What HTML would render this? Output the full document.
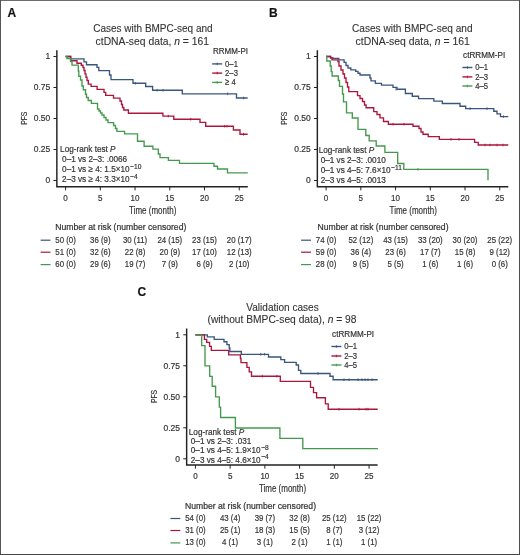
<!DOCTYPE html><html><head><meta charset="utf-8"><style>html,body{margin:0;padding:0;background:#fff}svg{display:block;will-change:transform}text{font-family:"Liberation Sans", sans-serif;stroke:#333;stroke-width:0.2px}text.t{stroke-width:0.1px}</style></head><body>
<svg width="520" height="555" viewBox="0 0 520 555">
<rect x="0" y="0" width="520" height="555" fill="#fff"/>
<rect x="0" y="0" width="520" height="1" fill="#6c6c6c"/><rect x="0" y="0" width="1" height="555" fill="#555"/><rect x="519" y="0" width="1" height="555" fill="#4e4e4e"/><rect x="0" y="554" width="520" height="1" fill="#454545"/>
<text x="7.40" y="17.00" font-size="12.0" font-weight="bold" fill="#111">A</text>
<text x="93.30" y="31.80" font-size="10.2" textLength="119.3" lengthAdjust="spacingAndGlyphs" fill="#333" class="t">Cases with BMPC-seq and</text>
<text class="t" x="95.6" y="44.5" font-size="10.2" fill="#333" textLength="113.4" lengthAdjust="spacingAndGlyphs">ctDNA-seq data, <tspan font-style="italic">n</tspan> = 161</text>
<path d="M56.85,50.30V186.75H247.80" fill="none" stroke="#222" stroke-width="1.45"/>
<path d="M53.45,56.50H56.85M53.45,87.50H56.85M53.45,118.50H56.85M53.45,149.50H56.85M53.45,180.50H56.85M65.60,186.75V190.35M100.33,186.75V190.35M135.06,186.75V190.35M169.79,186.75V190.35M204.52,186.75V190.35M239.25,186.75V190.35" stroke="#222" stroke-width="1.0" fill="none"/>
<text transform="translate(50.20,59.40) scale(0.9,1)" font-size="9.4" text-anchor="end" fill="#333">1</text>
<text transform="translate(50.20,90.40) scale(0.9,1)" font-size="9.4" text-anchor="end" fill="#333">0.75</text>
<text transform="translate(50.20,121.40) scale(0.9,1)" font-size="9.4" text-anchor="end" fill="#333">0.50</text>
<text transform="translate(50.20,152.40) scale(0.9,1)" font-size="9.4" text-anchor="end" fill="#333">0.25</text>
<text transform="translate(50.20,183.40) scale(0.9,1)" font-size="9.4" text-anchor="end" fill="#333">0</text>
<text transform="translate(65.60,200.60) scale(0.84,1)" font-size="9.6" text-anchor="middle" fill="#333">0</text>
<text transform="translate(100.33,200.60) scale(0.84,1)" font-size="9.6" text-anchor="middle" fill="#333">5</text>
<text transform="translate(135.06,200.60) scale(0.84,1)" font-size="9.6" text-anchor="middle" fill="#333">10</text>
<text transform="translate(169.79,200.60) scale(0.84,1)" font-size="9.6" text-anchor="middle" fill="#333">15</text>
<text transform="translate(204.52,200.60) scale(0.84,1)" font-size="9.6" text-anchor="middle" fill="#333">20</text>
<text transform="translate(239.25,200.60) scale(0.84,1)" font-size="9.6" text-anchor="middle" fill="#333">25</text>
<text x="129.10" y="214.10" font-size="11.5" textLength="47.2" lengthAdjust="spacingAndGlyphs" fill="#333">Time (month)</text>
<text x="0" y="0" font-size="9.9" fill="#333" text-anchor="middle" textLength="13.2" lengthAdjust="spacingAndGlyphs" transform="translate(26.90,118.20) rotate(-90)">PFS</text>
<text x="212.90" y="54.20" font-size="8.8" textLength="35.2" lengthAdjust="spacingAndGlyphs" fill="#333">RRMM-PI</text>
<path d="M212.20,63.90H222.20" stroke="#39567e" stroke-width="1.4"/>
<path d="M217.20,62.60v2.6" stroke="#39567e" stroke-width="0.9"/>
<text transform="translate(225.10,66.80) scale(0.8,1)" font-size="9.6" fill="#333">0–1</text>
<path d="M212.20,73.10H222.20" stroke="#ab163d" stroke-width="1.4"/>
<path d="M217.20,71.80v2.6" stroke="#ab163d" stroke-width="0.9"/>
<text transform="translate(225.10,76.00) scale(0.8,1)" font-size="9.6" fill="#333">2–3</text>
<path d="M212.20,82.40H222.20" stroke="#45994e" stroke-width="1.4"/>
<path d="M217.20,81.10v2.6" stroke="#45994e" stroke-width="0.9"/>
<text transform="translate(225.10,85.30) scale(0.8,1)" font-size="9.6" fill="#333">≥ 4</text>
<path d="M65.60,56.50H70.60V58.80H84.00V61.80H86.50V64.70H97.00V67.30H98.80V70.60H109.50V75.00H111.00V79.60H133.00V83.20H145.70V86.50H152.60V90.20H182.30V93.80H236.50V98.00H247.70" fill="none" stroke="#39567e" stroke-width="1.35" stroke-linejoin="miter"/>
<path d="M65.60,56.50H70.70V60.70H77.00V63.20H81.30V65.20H83.00V67.50H84.00V70.50H85.00V73.80H86.00V77.20H87.00V80.50H88.30V84.10H91.10V86.30H97.10V89.30H104.00V92.30H105.70V95.30H113.50V98.10H120.00V101.00H121.50V104.50H122.50V107.50H123.80V110.00H128.40V113.20H162.90V116.10H173.80V119.20H200.00V122.30H205.70V126.20H233.40V130.00H240.00V134.20H247.70" fill="none" stroke="#ab163d" stroke-width="1.35" stroke-linejoin="miter"/>
<path d="M65.60,56.50H67.00V58.50H70.50V61.50H72.00V65.10H78.30V71.00H78.80V76.20H80.50V80.00H82.00V86.00H83.30V89.70H85.50V94.20H86.50V97.50H88.20V100.50H91.40V103.40H97.50V109.00H99.00V111.00H100.50V113.00H102.00V115.00H104.00V117.50H106.00V120.00H108.00V122.60H113.60V125.50H115.50V128.50H116.90V131.30H124.60V133.80H137.50V141.20H144.10V146.20H152.90V149.10H158.30V154.00H160.00V157.60H168.40V160.30H179.50V163.30H214.00V166.20H217.50V169.00H227.50V172.80H247.80" fill="none" stroke="#45994e" stroke-width="1.35" stroke-linejoin="miter"/>
<path d="M135.40,81.90v2.60M157.20,88.90v2.60M163.00,88.90v2.60M227.70,92.50v2.60M243.50,96.70v2.60" stroke="#39567e" stroke-width="0.9" fill="none"/>
<path d="M168.30,114.80v2.60M190.80,117.90v2.60M224.60,124.90v2.60M227.00,124.90v2.60M243.50,132.90v2.60" stroke="#ab163d" stroke-width="0.9" fill="none"/>
<text transform="translate(60.10,151.50) scale(0.91,1)" font-size="9.0" fill="#333">Log-rank test <tspan font-style="italic">P</tspan></text>
<text transform="translate(62.10,161.60) scale(0.91,1)" font-size="9.0" fill="#333">0–1 vs 2–3: .0066</text>
<text transform="translate(62.10,171.70) scale(0.91,1)" font-size="9.0" fill="#333">0–1 vs ≥ 4: 1.5×10<tspan font-size="7.3" dx="0.6" dy="-3.1">−10</tspan></text>
<text transform="translate(62.10,181.90) scale(0.91,1)" font-size="9.0" fill="#333">2–3 vs ≥ 4: 3.3×10<tspan font-size="7.3" dx="0.6" dy="-3.1">−4</tspan></text>
<text x="55.30" y="230.30" font-size="8.4" textLength="131.0" lengthAdjust="spacingAndGlyphs" fill="#333">Number at risk (number censored)</text>
<path d="M40.60,240.20H50.50" stroke="#39567e" stroke-width="1.2"/>
<text transform="translate(65.60,242.50) scale(0.8,1)" font-size="9.8" text-anchor="middle" fill="#333">50 (0)</text>
<text transform="translate(100.33,242.50) scale(0.8,1)" font-size="9.8" text-anchor="middle" fill="#333">36 (9)</text>
<text transform="translate(135.06,242.50) scale(0.8,1)" font-size="9.8" text-anchor="middle" fill="#333">30 (11)</text>
<text transform="translate(169.79,242.50) scale(0.8,1)" font-size="9.8" text-anchor="middle" fill="#333">24 (15)</text>
<text transform="translate(204.52,242.50) scale(0.8,1)" font-size="9.8" text-anchor="middle" fill="#333">23 (15)</text>
<text transform="translate(239.25,242.50) scale(0.8,1)" font-size="9.8" text-anchor="middle" fill="#333">20 (17)</text>
<path d="M40.60,252.20H50.50" stroke="#ab163d" stroke-width="1.2"/>
<text transform="translate(65.60,254.50) scale(0.8,1)" font-size="9.8" text-anchor="middle" fill="#333">51 (0)</text>
<text transform="translate(100.33,254.50) scale(0.8,1)" font-size="9.8" text-anchor="middle" fill="#333">32 (6)</text>
<text transform="translate(135.06,254.50) scale(0.8,1)" font-size="9.8" text-anchor="middle" fill="#333">22 (8)</text>
<text transform="translate(169.79,254.50) scale(0.8,1)" font-size="9.8" text-anchor="middle" fill="#333">20 (9)</text>
<text transform="translate(204.52,254.50) scale(0.8,1)" font-size="9.8" text-anchor="middle" fill="#333">17 (10)</text>
<text transform="translate(239.25,254.50) scale(0.8,1)" font-size="9.8" text-anchor="middle" fill="#333">12 (13)</text>
<path d="M40.60,264.60H50.50" stroke="#45994e" stroke-width="1.2"/>
<text transform="translate(65.60,266.90) scale(0.8,1)" font-size="9.8" text-anchor="middle" fill="#333">60 (0)</text>
<text transform="translate(100.33,266.90) scale(0.8,1)" font-size="9.8" text-anchor="middle" fill="#333">29 (6)</text>
<text transform="translate(135.06,266.90) scale(0.8,1)" font-size="9.8" text-anchor="middle" fill="#333">19 (7)</text>
<text transform="translate(169.79,266.90) scale(0.8,1)" font-size="9.8" text-anchor="middle" fill="#333">7 (9)</text>
<text transform="translate(204.52,266.90) scale(0.8,1)" font-size="9.8" text-anchor="middle" fill="#333">6 (9)</text>
<text transform="translate(239.25,266.90) scale(0.8,1)" font-size="9.8" text-anchor="middle" fill="#333">2 (10)</text>
<text x="269.00" y="17.00" font-size="12.0" font-weight="bold" fill="#111">B</text>
<text x="352.10" y="31.70" font-size="10.2" textLength="120.4" lengthAdjust="spacingAndGlyphs" fill="#333" class="t">Cases with BMPC-seq and</text>
<text class="t" x="355.6" y="44.5" font-size="10.2" fill="#333" textLength="114.2" lengthAdjust="spacingAndGlyphs">ctDNA-seq data, <tspan font-style="italic">n</tspan> = 161</text>
<path d="M317.35,50.30V186.75H508.30" fill="none" stroke="#222" stroke-width="1.45"/>
<path d="M313.95,56.50H317.35M313.95,87.50H317.35M313.95,118.50H317.35M313.95,149.50H317.35M313.95,180.50H317.35M326.10,186.75V190.35M360.83,186.75V190.35M395.56,186.75V190.35M430.29,186.75V190.35M465.02,186.75V190.35M499.75,186.75V190.35" stroke="#222" stroke-width="1.0" fill="none"/>
<text transform="translate(310.70,59.40) scale(0.9,1)" font-size="9.4" text-anchor="end" fill="#333">1</text>
<text transform="translate(310.70,90.40) scale(0.9,1)" font-size="9.4" text-anchor="end" fill="#333">0.75</text>
<text transform="translate(310.70,121.40) scale(0.9,1)" font-size="9.4" text-anchor="end" fill="#333">0.50</text>
<text transform="translate(310.70,152.40) scale(0.9,1)" font-size="9.4" text-anchor="end" fill="#333">0.25</text>
<text transform="translate(310.70,183.40) scale(0.9,1)" font-size="9.4" text-anchor="end" fill="#333">0</text>
<text transform="translate(326.10,200.60) scale(0.84,1)" font-size="9.6" text-anchor="middle" fill="#333">0</text>
<text transform="translate(360.83,200.60) scale(0.84,1)" font-size="9.6" text-anchor="middle" fill="#333">5</text>
<text transform="translate(395.56,200.60) scale(0.84,1)" font-size="9.6" text-anchor="middle" fill="#333">10</text>
<text transform="translate(430.29,200.60) scale(0.84,1)" font-size="9.6" text-anchor="middle" fill="#333">15</text>
<text transform="translate(465.02,200.60) scale(0.84,1)" font-size="9.6" text-anchor="middle" fill="#333">20</text>
<text transform="translate(499.75,200.60) scale(0.84,1)" font-size="9.6" text-anchor="middle" fill="#333">25</text>
<text x="389.60" y="214.10" font-size="11.5" textLength="47.2" lengthAdjust="spacingAndGlyphs" fill="#333">Time (month)</text>
<text x="0" y="0" font-size="9.9" fill="#333" text-anchor="middle" textLength="13.2" lengthAdjust="spacingAndGlyphs" transform="translate(287.40,118.20) rotate(-90)">PFS</text>
<text x="463.10" y="58.20" font-size="8.8" textLength="42.1" lengthAdjust="spacingAndGlyphs" fill="#333">ctRRMM-PI</text>
<path d="M462.40,67.50H472.40" stroke="#39567e" stroke-width="1.4"/>
<path d="M467.40,66.20v2.6" stroke="#39567e" stroke-width="0.9"/>
<text transform="translate(475.30,70.40) scale(0.8,1)" font-size="9.6" fill="#333">0–1</text>
<path d="M462.40,76.90H472.40" stroke="#ab163d" stroke-width="1.4"/>
<path d="M467.40,75.60v2.6" stroke="#ab163d" stroke-width="0.9"/>
<text transform="translate(475.30,79.80) scale(0.8,1)" font-size="9.6" fill="#333">2–3</text>
<path d="M462.40,86.00H472.40" stroke="#45994e" stroke-width="1.4"/>
<path d="M467.40,84.70v2.6" stroke="#45994e" stroke-width="0.9"/>
<text transform="translate(475.30,88.90) scale(0.8,1)" font-size="9.6" fill="#333">4–5</text>
<path d="M326.10,56.50H330.50V57.80H333.00V58.40H338.80V59.80H344.10V62.30H346.00V65.50H348.00V68.00H350.80V69.90H355.70V71.40H358.00V73.20H360.00V75.00H370.00V78.00H371.00V80.80H375.40V83.40H381.50V85.10H393.00V87.40H397.00V89.20H405.40V93.50H412.30V96.20H418.50V98.60H433.80V101.10H442.30V103.50H460.00V106.20H465.70V108.60H493.80V111.20H497.00V113.80H500.50V116.60H508.30" fill="none" stroke="#39567e" stroke-width="1.35" stroke-linejoin="miter"/>
<path d="M326.10,56.50H330.70V57.80H332.00V59.80H337.90V61.50H339.00V66.00H341.00V70.00H343.00V74.00H344.50V78.00H346.00V82.50H347.50V87.00H348.80V91.60H357.50V95.60H360.00V98.50H362.50V101.50H364.50V105.00H366.10V107.70H373.70V111.60H377.00V114.50H380.00V117.80H383.50V121.50H388.40V124.20H413.00V126.20H419.00V128.50H421.00V132.00H423.00V134.20H428.20V136.60H439.30V139.30H474.60V142.40H478.20V145.00H508.30" fill="none" stroke="#ab163d" stroke-width="1.35" stroke-linejoin="miter"/>
<path d="M326.10,56.50H326.80V61.00H330.20V66.00H331.20V71.60H332.10V76.00H338.30V80.50H339.50V86.40H342.50V94.00H343.50V101.90H346.50V112.90H352.30V118.00H358.00V129.40H365.80V135.50H369.20V140.80H376.20V146.00H384.90V152.40H397.70V163.50H403.80V169.30H488.00V180.30" fill="none" stroke="#45994e" stroke-width="1.35" stroke-linejoin="miter"/>
<path d="M396.00,87.90v2.60M470.00,107.30v2.60M487.00,107.30v2.60M503.50,115.30v2.60" stroke="#39567e" stroke-width="0.9" fill="none"/>
<path d="M393.00,122.90v2.60M404.00,122.90v2.60M451.00,138.00v2.60M459.00,138.00v2.60M485.00,143.70v2.60M490.00,143.70v2.60M497.00,143.70v2.60M503.00,143.70v2.60" stroke="#ab163d" stroke-width="0.9" fill="none"/>
<path d="M418.00,168.00v2.60" stroke="#45994e" stroke-width="0.9" fill="none"/>
<text transform="translate(318.70,153.00) scale(0.91,1)" font-size="9.0" fill="#333">Log-rank test <tspan font-style="italic">P</tspan></text>
<text transform="translate(320.70,162.90) scale(0.91,1)" font-size="9.0" fill="#333">0–1 vs 2–3: .0010</text>
<text transform="translate(320.70,173.10) scale(0.91,1)" font-size="9.0" fill="#333">0–1 vs 4–5: 7.6×10<tspan font-size="7.3" dx="0.6" dy="-3.1">−11</tspan></text>
<text transform="translate(320.70,183.10) scale(0.91,1)" font-size="9.0" fill="#333">2–3 vs 4–5: .0013</text>
<text x="317.50" y="230.30" font-size="8.4" textLength="131.0" lengthAdjust="spacingAndGlyphs" fill="#333">Number at risk (number censored)</text>
<path d="M301.10,240.20H311.00" stroke="#39567e" stroke-width="1.2"/>
<text transform="translate(326.10,242.50) scale(0.8,1)" font-size="9.8" text-anchor="middle" fill="#333">74 (0)</text>
<text transform="translate(360.83,242.50) scale(0.8,1)" font-size="9.8" text-anchor="middle" fill="#333">52 (12)</text>
<text transform="translate(395.56,242.50) scale(0.8,1)" font-size="9.8" text-anchor="middle" fill="#333">43 (15)</text>
<text transform="translate(430.29,242.50) scale(0.8,1)" font-size="9.8" text-anchor="middle" fill="#333">33 (20)</text>
<text transform="translate(465.02,242.50) scale(0.8,1)" font-size="9.8" text-anchor="middle" fill="#333">30 (20)</text>
<text transform="translate(499.75,242.50) scale(0.8,1)" font-size="9.8" text-anchor="middle" fill="#333">25 (22)</text>
<path d="M301.10,252.20H311.00" stroke="#ab163d" stroke-width="1.2"/>
<text transform="translate(326.10,254.50) scale(0.8,1)" font-size="9.8" text-anchor="middle" fill="#333">59 (0)</text>
<text transform="translate(360.83,254.50) scale(0.8,1)" font-size="9.8" text-anchor="middle" fill="#333">36 (4)</text>
<text transform="translate(395.56,254.50) scale(0.8,1)" font-size="9.8" text-anchor="middle" fill="#333">23 (6)</text>
<text transform="translate(430.29,254.50) scale(0.8,1)" font-size="9.8" text-anchor="middle" fill="#333">17 (7)</text>
<text transform="translate(465.02,254.50) scale(0.8,1)" font-size="9.8" text-anchor="middle" fill="#333">15 (8)</text>
<text transform="translate(499.75,254.50) scale(0.8,1)" font-size="9.8" text-anchor="middle" fill="#333">9 (12)</text>
<path d="M301.10,264.60H311.00" stroke="#45994e" stroke-width="1.2"/>
<text transform="translate(326.10,266.90) scale(0.8,1)" font-size="9.8" text-anchor="middle" fill="#333">28 (0)</text>
<text transform="translate(360.83,266.90) scale(0.8,1)" font-size="9.8" text-anchor="middle" fill="#333">9 (5)</text>
<text transform="translate(395.56,266.90) scale(0.8,1)" font-size="9.8" text-anchor="middle" fill="#333">5 (5)</text>
<text transform="translate(430.29,266.90) scale(0.8,1)" font-size="9.8" text-anchor="middle" fill="#333">1 (6)</text>
<text transform="translate(465.02,266.90) scale(0.8,1)" font-size="9.8" text-anchor="middle" fill="#333">1 (6)</text>
<text transform="translate(499.75,266.90) scale(0.8,1)" font-size="9.8" text-anchor="middle" fill="#333">0 (6)</text>
<text x="137.60" y="295.60" font-size="12.0" font-weight="bold" fill="#111">C</text>
<text x="246.30" y="310.70" font-size="10.2" textLength="72.4" lengthAdjust="spacingAndGlyphs" fill="#333" class="t">Validation cases</text>
<text class="t" x="207.5" y="323.0" font-size="10.2" fill="#333" textLength="149" lengthAdjust="spacingAndGlyphs">(without BMPC-seq data), <tspan font-style="italic">n</tspan> = 98</text>
<path d="M186.65,328.60V465.05H377.60" fill="none" stroke="#222" stroke-width="1.45"/>
<path d="M183.25,334.80H186.65M183.25,365.80H186.65M183.25,396.80H186.65M183.25,427.80H186.65M183.25,458.80H186.65M195.40,465.05V468.65M230.13,465.05V468.65M264.86,465.05V468.65M299.59,465.05V468.65M334.32,465.05V468.65M369.05,465.05V468.65" stroke="#222" stroke-width="1.0" fill="none"/>
<text transform="translate(180.00,337.70) scale(0.9,1)" font-size="9.4" text-anchor="end" fill="#333">1</text>
<text transform="translate(180.00,368.70) scale(0.9,1)" font-size="9.4" text-anchor="end" fill="#333">0.75</text>
<text transform="translate(180.00,399.70) scale(0.9,1)" font-size="9.4" text-anchor="end" fill="#333">0.50</text>
<text transform="translate(180.00,430.70) scale(0.9,1)" font-size="9.4" text-anchor="end" fill="#333">0.25</text>
<text transform="translate(180.00,461.70) scale(0.9,1)" font-size="9.4" text-anchor="end" fill="#333">0</text>
<text transform="translate(195.40,478.90) scale(0.84,1)" font-size="9.6" text-anchor="middle" fill="#333">0</text>
<text transform="translate(230.13,478.90) scale(0.84,1)" font-size="9.6" text-anchor="middle" fill="#333">5</text>
<text transform="translate(264.86,478.90) scale(0.84,1)" font-size="9.6" text-anchor="middle" fill="#333">10</text>
<text transform="translate(299.59,478.90) scale(0.84,1)" font-size="9.6" text-anchor="middle" fill="#333">15</text>
<text transform="translate(334.32,478.90) scale(0.84,1)" font-size="9.6" text-anchor="middle" fill="#333">20</text>
<text transform="translate(369.05,478.90) scale(0.84,1)" font-size="9.6" text-anchor="middle" fill="#333">25</text>
<text x="258.90" y="492.40" font-size="11.5" textLength="47.2" lengthAdjust="spacingAndGlyphs" fill="#333">Time (month)</text>
<text x="0" y="0" font-size="9.9" fill="#333" text-anchor="middle" textLength="13.2" lengthAdjust="spacingAndGlyphs" transform="translate(156.70,396.50) rotate(-90)">PFS</text>
<text x="332.10" y="337.10" font-size="8.8" textLength="42.0" lengthAdjust="spacingAndGlyphs" fill="#333">ctRRMM-PI</text>
<path d="M331.40,346.50H341.40" stroke="#39567e" stroke-width="1.4"/>
<path d="M336.40,345.20v2.6" stroke="#39567e" stroke-width="0.9"/>
<text transform="translate(344.30,349.40) scale(0.8,1)" font-size="9.6" fill="#333">0–1</text>
<path d="M331.40,356.00H341.40" stroke="#ab163d" stroke-width="1.4"/>
<path d="M336.40,354.70v2.6" stroke="#ab163d" stroke-width="0.9"/>
<text transform="translate(344.30,358.90) scale(0.8,1)" font-size="9.6" fill="#333">2–3</text>
<path d="M331.40,365.00H341.40" stroke="#45994e" stroke-width="1.4"/>
<path d="M336.40,363.70v2.6" stroke="#45994e" stroke-width="0.9"/>
<text transform="translate(344.30,367.90) scale(0.8,1)" font-size="9.6" fill="#333">4–5</text>
<path d="M195.40,334.80H207.30V336.80H214.20V339.40H224.00V341.70H226.90V344.60H229.20V348.00H229.80V351.50H241.30V354.30H268.50V357.00H280.80V359.60H284.60V362.40H296.20V365.00H298.50V370.40H300.80V373.50H330.00V376.20H333.10V379.70H377.70" fill="none" stroke="#39567e" stroke-width="1.35" stroke-linejoin="miter"/>
<path d="M195.40,334.80H204.40V339.40H206.70V342.30H209.60V346.30H211.30V350.40H228.70V354.80H240.40V358.50H241.00V362.60H246.90V367.30H249.20V371.90H251.50V376.20H280.30V381.30H310.50V387.40H313.50V392.60H316.60V397.70H325.40V403.80H328.20V409.20H377.70" fill="none" stroke="#ab163d" stroke-width="1.35" stroke-linejoin="miter"/>
<path d="M195.40,334.80H201.70V345.60H205.00V365.80H209.70V376.30H212.20V386.20H215.60V396.80H219.30V407.10H220.60V417.50H235.40V428.00H279.90V438.30H302.80V448.60H377.90" fill="none" stroke="#45994e" stroke-width="1.35" stroke-linejoin="miter"/>
<path d="M260.80,353.00v2.60M264.60,353.00v2.60M318.00,372.20v2.60M344.00,378.40v2.60M349.00,378.40v2.60M358.00,378.40v2.60M362.00,378.40v2.60M365.00,378.40v2.60M368.00,378.40v2.60M372.00,378.40v2.60" stroke="#39567e" stroke-width="0.9" fill="none"/>
<path d="M262.30,374.90v2.60M276.90,374.90v2.60M339.00,407.90v2.60M359.00,407.90v2.60M366.00,407.90v2.60M368.00,407.90v2.60" stroke="#ab163d" stroke-width="0.9" fill="none"/>
<text transform="translate(188.80,435.40) scale(0.91,1)" font-size="9.0" fill="#333">Log-rank test <tspan font-style="italic">P</tspan></text>
<text transform="translate(190.80,444.40) scale(0.91,1)" font-size="9.0" fill="#333">0–1 vs 2–3: .031</text>
<text transform="translate(190.80,453.40) scale(0.91,1)" font-size="9.0" fill="#333">0–1 vs 4–5: 1.9×10<tspan font-size="7.3" dx="0.6" dy="-3.1">−8</tspan></text>
<text transform="translate(190.80,462.50) scale(0.91,1)" font-size="9.0" fill="#333">2–3 vs 4–5: 4.6×10<tspan font-size="7.3" dx="0.6" dy="-3.1">−4</tspan></text>
<text x="185.00" y="508.60" font-size="8.4" textLength="131.0" lengthAdjust="spacingAndGlyphs" fill="#333">Number at risk (number censored)</text>
<path d="M170.40,518.50H180.30" stroke="#39567e" stroke-width="1.2"/>
<text transform="translate(195.40,520.80) scale(0.8,1)" font-size="9.8" text-anchor="middle" fill="#333">54 (0)</text>
<text transform="translate(230.13,520.80) scale(0.8,1)" font-size="9.8" text-anchor="middle" fill="#333">43 (4)</text>
<text transform="translate(264.86,520.80) scale(0.8,1)" font-size="9.8" text-anchor="middle" fill="#333">39 (7)</text>
<text transform="translate(299.59,520.80) scale(0.8,1)" font-size="9.8" text-anchor="middle" fill="#333">32 (8)</text>
<text transform="translate(334.32,520.80) scale(0.8,1)" font-size="9.8" text-anchor="middle" fill="#333">25 (12)</text>
<text transform="translate(369.05,520.80) scale(0.8,1)" font-size="9.8" text-anchor="middle" fill="#333">15 (22)</text>
<path d="M170.40,530.50H180.30" stroke="#ab163d" stroke-width="1.2"/>
<text transform="translate(195.40,532.80) scale(0.8,1)" font-size="9.8" text-anchor="middle" fill="#333">31 (0)</text>
<text transform="translate(230.13,532.80) scale(0.8,1)" font-size="9.8" text-anchor="middle" fill="#333">25 (1)</text>
<text transform="translate(264.86,532.80) scale(0.8,1)" font-size="9.8" text-anchor="middle" fill="#333">18 (3)</text>
<text transform="translate(299.59,532.80) scale(0.8,1)" font-size="9.8" text-anchor="middle" fill="#333">15 (5)</text>
<text transform="translate(334.32,532.80) scale(0.8,1)" font-size="9.8" text-anchor="middle" fill="#333">8 (7)</text>
<text transform="translate(369.05,532.80) scale(0.8,1)" font-size="9.8" text-anchor="middle" fill="#333">3 (12)</text>
<path d="M170.40,542.90H180.30" stroke="#45994e" stroke-width="1.2"/>
<text transform="translate(195.40,545.20) scale(0.8,1)" font-size="9.8" text-anchor="middle" fill="#333">13 (0)</text>
<text transform="translate(230.13,545.20) scale(0.8,1)" font-size="9.8" text-anchor="middle" fill="#333">4 (1)</text>
<text transform="translate(264.86,545.20) scale(0.8,1)" font-size="9.8" text-anchor="middle" fill="#333">3 (1)</text>
<text transform="translate(299.59,545.20) scale(0.8,1)" font-size="9.8" text-anchor="middle" fill="#333">2 (1)</text>
<text transform="translate(334.32,545.20) scale(0.8,1)" font-size="9.8" text-anchor="middle" fill="#333">1 (1)</text>
<text transform="translate(369.05,545.20) scale(0.8,1)" font-size="9.8" text-anchor="middle" fill="#333">1 (1)</text>
</svg></body></html>
